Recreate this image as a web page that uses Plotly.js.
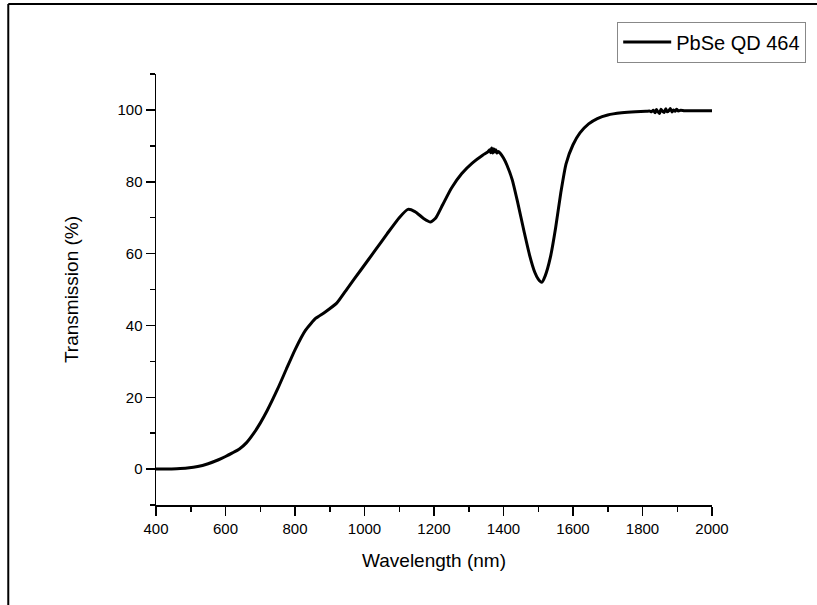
<!DOCTYPE html>
<html>
<head>
<meta charset="utf-8">
<script src="https://cdn.plot.ly/plotly-3.0.1.min.js"></script>
<style>html,body{margin:0;padding:0;background:#fff;}#chart{width:817px;height:605px;}</style>
</head>
<body>
<div id="chart"></div>
<script>
const wavelength = [400,430,460,490,520,550,580,600,620,640,660,680,700,720,750,775,800,830,860,885,920,950,990,1030,1065,1100,1125,1145,1170,1190,1205,1225,1250,1280,1310,1340,1355,1360,1363,1366,1369,1372,1375,1378,1381,1385,1390,1400,1410,1425,1440,1460,1475,1490,1500,1510,1520,1535,1550,1565,1580,1600,1620,1645,1670,1700,1740,1780,1810,1820,1826,1831,1836,1840,1845,1849,1853,1858,1862,1867,1871,1876,1880,1885,1889,1894,1898,1903,1910,1920,1960,2000];
const transmission = [0,0,0.1,0.3,0.7,1.5,2.6,3.5,4.5,5.6,7.3,9.8,12.8,16.3,22.3,27.8,33.2,38.6,42.0,43.6,46.2,50.2,55.5,60.8,65.5,70.0,72.3,71.7,69.8,68.8,69.9,73.6,78.2,82.3,85.2,87.4,88.3,88.9,88.1,89.4,88.0,89.2,88.3,88.9,88.0,88.4,88.0,86.6,84.6,80.6,74.6,65.8,59.6,54.8,52.9,52.0,53.8,59.0,67.2,77.0,85.0,90.3,93.6,96.1,97.6,98.6,99.2,99.5,99.6,99.7,99.5,99.9,99.2,100.1,99.4,99.0,100.2,99.6,99.3,100.3,99.5,99.8,100.4,99.4,100.0,99.6,100.2,99.7,99.9,99.8,99.8,99.8];

const seriesName = 'PbSe QD 464';
const xTitle = 'Wavelength (nm)';
const yTitle = 'Transmission (%)';

const trace = {
  x: wavelength,
  y: transmission,
  type: 'scatter',
  mode: 'lines',
  name: seriesName,
  line: {color: '#000000', width: 3, shape: 'spline', smoothing: 0.5}
};

const fontFam = 'Liberation Sans, Arial, sans-serif';

const layout = {
  width: 817,
  height: 605,
  margin: {l: 156, r: 104, t: 74, b: 100, pad: 0},
  paper_bgcolor: '#ffffff',
  plot_bgcolor: '#ffffff',
  showlegend: true,
  font: {family: fontFam, color: '#000000'},
  legend: {
    x: 0.828, y: 1.074, xanchor: 'left', yanchor: 'middle',
    bordercolor: '#888888', borderwidth: 1, bgcolor: '#ffffff',
    font: {family: fontFam, size: 20, color: '#000000'},
    itemwidth: 48, tracegroupgap: 0
  },
  xaxis: {
    range: [400, 2000],
    tickmode: 'linear', tick0: 400, dtick: 200,
    ticks: 'outside', ticklen: 9, tickwidth: 1.5, tickcolor: '#000000',
    minor: {ticks: 'outside', ticklen: 5, dtick: 100, tick0: 400, tickwidth: 1.5, tickcolor: '#000000'},
    showline: true, linecolor: '#000000', linewidth: 1.5,
    showgrid: false, zeroline: false,
    tickfont: {family: fontFam, size: 15, color: '#000000'},
    title: {text: xTitle, font: {family: fontFam, size: 19, color: '#000000'}, standoff: 18}
  },
  yaxis: {
    range: [-10, 110],
    tickmode: 'linear', tick0: 0, dtick: 20,
    ticks: 'outside', ticklen: 9, tickwidth: 1.5, tickcolor: '#000000',
    minor: {ticks: 'outside', ticklen: 5, dtick: 10, tick0: -10, tickwidth: 1.5, tickcolor: '#000000'},
    showline: true, linecolor: '#000000', linewidth: 1.5,
    showgrid: false, zeroline: false,
    tickfont: {family: fontFam, size: 15, color: '#000000'},
    title: {text: yTitle, font: {family: fontFam, size: 19, color: '#000000'}, standoff: 34}
  },
  shapes: [
    {type: 'line', xref: 'paper', yref: 'paper', x0: -0.2657, x1: 1.2, y0: 1.1624, y1: 1.1624, line: {color: '#000000', width: 2}},
    {type: 'line', xref: 'paper', yref: 'paper', x0: -0.2657, x1: -0.2657, y0: 1.1624, y1: -0.24, line: {color: '#000000', width: 2}}
  ]
};

Plotly.newPlot('chart', [trace], layout, {displayModeBar: false, staticPlot: true});
</script>
</body>
</html>
